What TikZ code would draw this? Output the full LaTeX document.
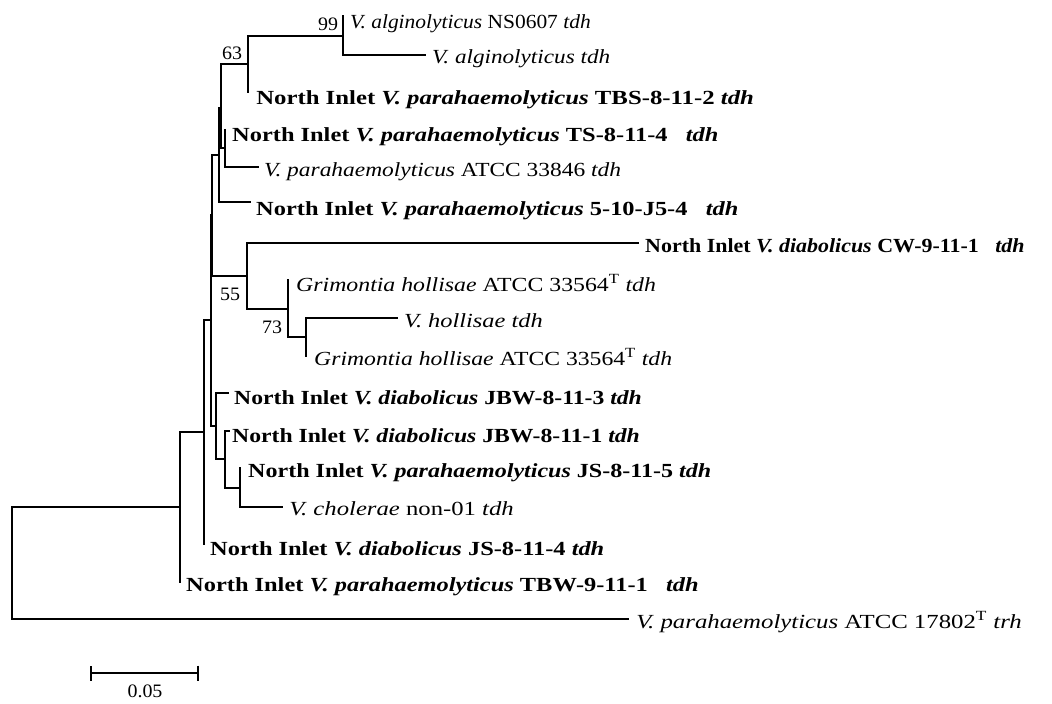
\documentclass[tikz,border=0pt]{standalone}
\usepackage{fontspec}
\setmainfont{Liberation Serif}
\usetikzlibrary{arrows.meta}
\tikzset{
  br/.style={line width=2pt, line cap=rect},
  lab/.style={anchor=base west, inner sep=0pt, xscale=1.22, font=\fontsize{20}{24}\selectfont},
  boot/.style={anchor=center, inner sep=0pt, xscale=1.05, font=\fontsize{19}{22}\selectfont},
}
\begin{document}
\begin{tikzpicture}[x=1pt,y=-1pt]
\useasboundingbox (0,0) rectangle (1052,704);
% internal nodes
\coordinate (r) at (12,563);
\coordinate (A) at (180,507);
\coordinate (B) at (204,432);
\coordinate (C) at (211,320);
\coordinate (E) at (212,215);
\coordinate (F) at (219,155);
\coordinate (G) at (221,108);
\coordinate (N63) at (248,64);
\coordinate (N99) at (343,36);
\coordinate (TSn) at (225,148);
\coordinate (N55) at (247,276);
\coordinate (N73) at (288,309);
\coordinate (K) at (306,337);
\coordinate (D) at (216,426);
\coordinate (I) at (225,459);
\coordinate (J) at (240,488);
% leaf tips
\coordinate (t1) at (343,16);
\coordinate (t2) at (425,55);
\coordinate (t3) at (248,92);
\coordinate (t4) at (225,130);
\coordinate (t5) at (258,167);
\coordinate (t6) at (250,202);
\coordinate (t7) at (638,243);
\coordinate (t8) at (288,280);
\coordinate (t9) at (397,318);
\coordinate (t10) at (306,356);
\coordinate (t11) at (228,393);
\coordinate (t12) at (229,431);
\coordinate (t13) at (240,468);
\coordinate (t14) at (282,507);
\coordinate (t15) at (204,544);
\coordinate (t16) at (180,582);
\coordinate (t17) at (628,619);
% branches
\draw[br] (r) |- (A);
\draw[br] (r) |- (t17);
\draw[br] (A) |- (B);
\draw[br] (A) |- (t16);
\draw[br] (B) |- (C);
\draw[br] (B) |- (t15);
\draw[br] (C) |- (E);
\draw[br] (C) |- (D);
\draw[br] (E) |- (F);
\draw[br] (E) |- (N55);
\draw[br] (F) |- (G);
\draw[br] (F) |- (t6);
\draw[br] (G) |- (N63);
\draw[br] (G) |- (TSn);
\draw[br] (N63) |- (N99);
\draw[br] (N63) |- (t3);
\draw[br] (N99) |- (t1);
\draw[br] (N99) |- (t2);
\draw[br] (TSn) |- (t4);
\draw[br] (TSn) |- (t5);
\draw[br] (N55) |- (t7);
\draw[br] (N55) |- (N73);
\draw[br] (N73) |- (t8);
\draw[br] (N73) |- (K);
\draw[br] (K) |- (t9);
\draw[br] (K) |- (t10);
\draw[br] (D) |- (t11);
\draw[br] (D) |- (I);
\draw[br] (I) |- (t12);
\draw[br] (I) |- (J);
\draw[br] (J) |- (t13);
\draw[br] (J) |- (t14);
% labels
\node[lab, xscale=0.88] (L1) at (350,28) {\textit{V. alginolyticus} NS0607 \textit{tdh}};
\node[lab, xscale=0.95] (L2) at (432,63) {\textit{V. alginolyticus tdh}};
\node[lab, xscale=1.015] (L3) at (256,104) {\textbf{North Inlet \textit{V. parahaemolyticus} TBS-8-11-2 \textit{tdh}}};
\node[lab] (L4) at (232,141) {\textbf{North Inlet \textit{V. parahaemolyticus} TS-8-11-4\hspace{0.5em} \textit{tdh}}};
\node[lab, xscale=0.96] (L5) at (264,176) {\textit{V. parahaemolyticus} ATCC 33846 \textit{tdh}};
\node[lab] (L6) at (256,215) {\textbf{North Inlet \textit{V. parahaemolyticus} 5-10-J5-4\hspace{0.5em} \textit{tdh}}};
\node[lab, xscale=0.9] (L7) at (645,252) {\textbf{North Inlet \textit{V. diabolicus} CW-9-11-1\hspace{0.5em} \textit{tdh}}};
\node[lab, xscale=0.975] (L8) at (296,291) {\textit{Grimontia hollisae} ATCC 33564\textsuperscript{T} \textit{tdh}};
\node[lab] (L9) at (404,327) {\textit{V. hollisae tdh}};
\node[lab, xscale=0.97] (L10) at (314,365) {\textit{Grimontia hollisae} ATCC 33564\textsuperscript{T} \textit{tdh}};
\node[lab, xscale=0.97] (L11) at (234,404) {\textbf{North Inlet \textit{V. diabolicus} JBW-8-11-3 \textit{tdh}}};
\node[lab, xscale=0.97] (L12) at (232,442) {\textbf{North Inlet \textit{V. diabolicus} JBW-8-11-1 \textit{tdh}}};
\node[lab, xscale=0.985] (L13) at (248,477) {\textbf{North Inlet \textit{V. parahaemolyticus} JS-8-11-5 \textit{tdh}}};
\node[lab, xscale=1.012] (L14) at (289,515) {\textit{V. cholerae} non-01 \textit{tdh}};
\node[lab] (L15) at (210,555) {\textbf{North Inlet \textit{V. diabolicus} JS-8-11-4 \textit{tdh}}};
\node[lab] (L16) at (186,591) {\textbf{North Inlet \textit{V. parahaemolyticus} TBW-9-11-1\hspace{0.5em} \textit{tdh}}};
\node[lab, xscale=1.016] (L17) at (636,628) {\textit{V. parahaemolyticus} ATCC 17802\textsuperscript{T} \textit{trh}};
% bootstrap values
\node[boot] (b99) at (328,24) {99};
\node[boot] (b63) at (232,53) {63};
\node[boot] (b55) at (230,294) {55};
\node[boot] (b73) at (272,327) {73};
% scale bar
\coordinate (sb1) at (90,673);
\coordinate (sb2) at (199,673);
\draw[br, line cap=butt, {Bar[width=15pt,line width=2pt]}-{Bar[width=15pt,line width=2pt]}] (sb1) -- (sb2);
\node[boot] (sbl) at (145,691) {0.05};
\end{tikzpicture}
\end{document}
